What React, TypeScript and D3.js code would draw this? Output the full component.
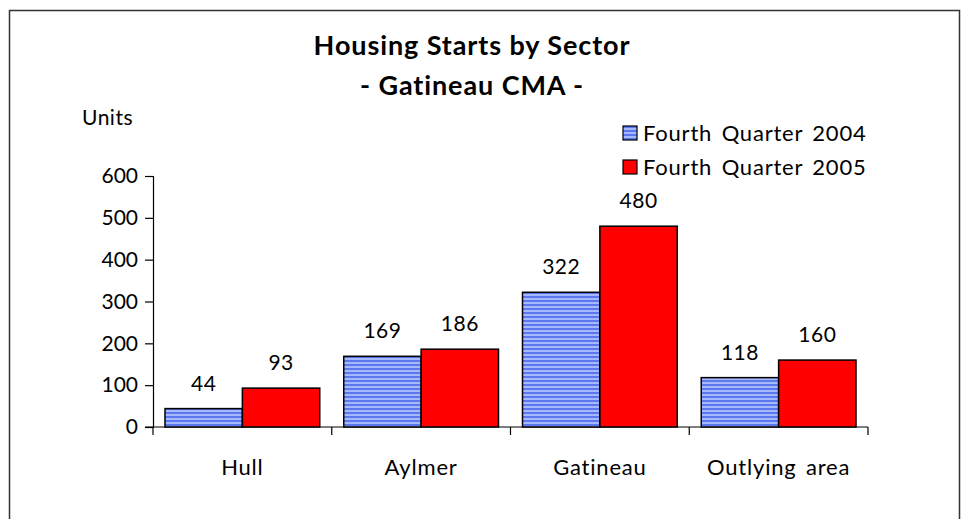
import React, { useEffect, useRef } from 'react';
import * as d3 from 'd3';

const categories = ['Hull', 'Aylmer', 'Gatineau', 'Outlying area'];
const seriesNames = ['Fourth Quarter 2004', 'Fourth Quarter 2005'];
const q4_2004 = [44, 169, 322, 118];
const q4_2005 = [93, 186, 480, 160];
const yTicks = [0, 100, 200, 300, 400, 500, 600];

const FONT = 'Lato, "Open Sans", sans-serif';

const App = () => {
  const svgRef = useRef<SVGSVGElement>(null);

  useEffect(() => {
    const width = 961;
    const height = 519;
    const svg = d3.select(svgRef.current);
    svg.selectAll('*').remove();
    svg.attr('width', width).attr('height', height);

    // striped fill for the 2004 bars
    const defs = svg.append('defs');
    const pat = defs.append('pattern')
      .attr('id', 'stripes')
      .attr('patternUnits', 'userSpaceOnUse')
      .attr('width', 4)
      .attr('height', 4);
    pat.append('rect').attr('width', 4).attr('height', 4).attr('fill', '#a8b8ff');
    pat.append('rect').attr('width', 4).attr('height', 2).attr('fill', '#5b78ee');

    svg.append('rect')
      .attr('x', 9.5).attr('y', 10.5)
      .attr('width', 950).attr('height', 540)
      .attr('fill', '#fff')
      .attr('stroke', '#333')
      .attr('stroke-width', 1.5);

    const x0 = d3.scaleBand().domain(categories).range([153, 868]).paddingInner(0).paddingOuter(0);
    const x1 = d3.scaleBand().domain(seriesNames).range([12, x0.bandwidth() - 12]);
    const y = d3.scaleLinear().domain([0, 600]).range([427, 176]);

    // title
    [['Housing Starts by Sector', 55], ['- Gatineau CMA -', 95]].forEach(([t, ty]) => {
      svg.append('text')
        .attr('x', 472).attr('y', ty as number)
        .attr('text-anchor', 'middle')
        .attr('font-family', FONT)
        .attr('font-weight', 'bold')
        .attr('font-size', 27)
        .attr('letter-spacing', 0.9)
        .text(t as string);
    });

    svg.append('text')
      .attr('x', 82).attr('y', 125)
      .attr('font-family', FONT)
      .attr('font-size', 21)
      .attr('letter-spacing', 0.5)
      .text('Units');

    // y axis
    const yAxis = svg.append('g')
      .attr('transform', 'translate(153,0)')
      .call(d3.axisLeft(y).tickValues(yTicks).tickSize(8).tickPadding(7));
    yAxis.select('.domain').attr('stroke', '#000').attr('stroke-width', 1.2);
    yAxis.selectAll('.tick line').attr('stroke', '#000').attr('stroke-width', 1.2);
    yAxis.selectAll('.tick text')
      .attr('font-family', FONT)
      .attr('font-size', 21)
      .attr('fill', '#000');

    // x axis
    const xAxisG = svg.append('g').attr('transform', 'translate(0,427)');
    xAxisG.append('line')
      .attr('x1', 145).attr('x2', 868)
      .attr('stroke', '#000').attr('stroke-width', 1.2);
    const bounds = categories.map(c => x0(c) as number).concat([868]);
    xAxisG.selectAll('.xtick')
      .data(bounds)
      .enter()
      .append('line')
      .attr('x1', d => d).attr('x2', d => d)
      .attr('y1', 0).attr('y2', 8)
      .attr('stroke', '#000').attr('stroke-width', 1.2);
    xAxisG.selectAll('.xlabel')
      .data(categories)
      .enter()
      .append('text')
      .attr('x', d => (x0(d) as number) + x0.bandwidth() / 2)
      .attr('y', 48)
      .attr('text-anchor', 'middle')
      .attr('font-family', FONT)
      .attr('font-size', 22)
      .attr('letter-spacing', 0.8)
      .attr('word-spacing', 3)
      .text(d => d);

    const rows = categories.map((c, i) => ({
      cat: c,
      vals: [
        { s: seriesNames[0], v: q4_2004[i] },
        { s: seriesNames[1], v: q4_2005[i] }
      ]
    }));

    const groups = svg.selectAll('.grp')
      .data(rows)
      .enter()
      .append('g')
      .attr('transform', d => `translate(${x0(d.cat)},0)`);

    groups.selectAll('rect')
      .data(d => d.vals)
      .enter()
      .append('rect')
      .attr('x', d => x1(d.s) as number)
      .attr('y', d => y(d.v))
      .attr('width', x1.bandwidth())
      .attr('height', d => y(0) - y(d.v))
      .attr('fill', d => (d.s === seriesNames[0] ? 'url(#stripes)' : '#ff0000'))
      .attr('stroke', '#000')
      .attr('stroke-width', 1.5);

    groups.selectAll('.val')
      .data(d => d.vals)
      .enter()
      .append('text')
      .attr('x', d => (x1(d.s) as number) + x1.bandwidth() / 2)
      .attr('y', d => y(d.v) - 18)
      .attr('text-anchor', 'middle')
      .attr('font-family', FONT)
      .attr('font-size', 21)
      .attr('letter-spacing', 0.5)
      .text(d => d.v);

    // legend
    const legend = svg.append('g').attr('transform', 'translate(623,126)');
    seriesNames.forEach((s, i) => {
      legend.append('rect')
        .attr('x', 0).attr('y', i * 34)
        .attr('width', 14).attr('height', 14)
        .attr('fill', i === 0 ? 'url(#stripes)' : '#ff0000')
        .attr('stroke', '#000')
        .attr('stroke-width', 1.2);
      legend.append('text')
        .attr('x', 20).attr('y', i * 34 + 15)
        .attr('font-family', FONT)
        .attr('font-size', 22)
        .attr('letter-spacing', 0.8)
        .attr('word-spacing', 3)
        .text(s);
    });
  }, []);

  return (
    <div style={{ position: 'absolute', left: 0, top: 0, width: 961, height: 519, overflow: 'hidden' }}>
      <svg ref={svgRef} style={{ display: 'block' }} />
    </div>
  );
};

export default App;
